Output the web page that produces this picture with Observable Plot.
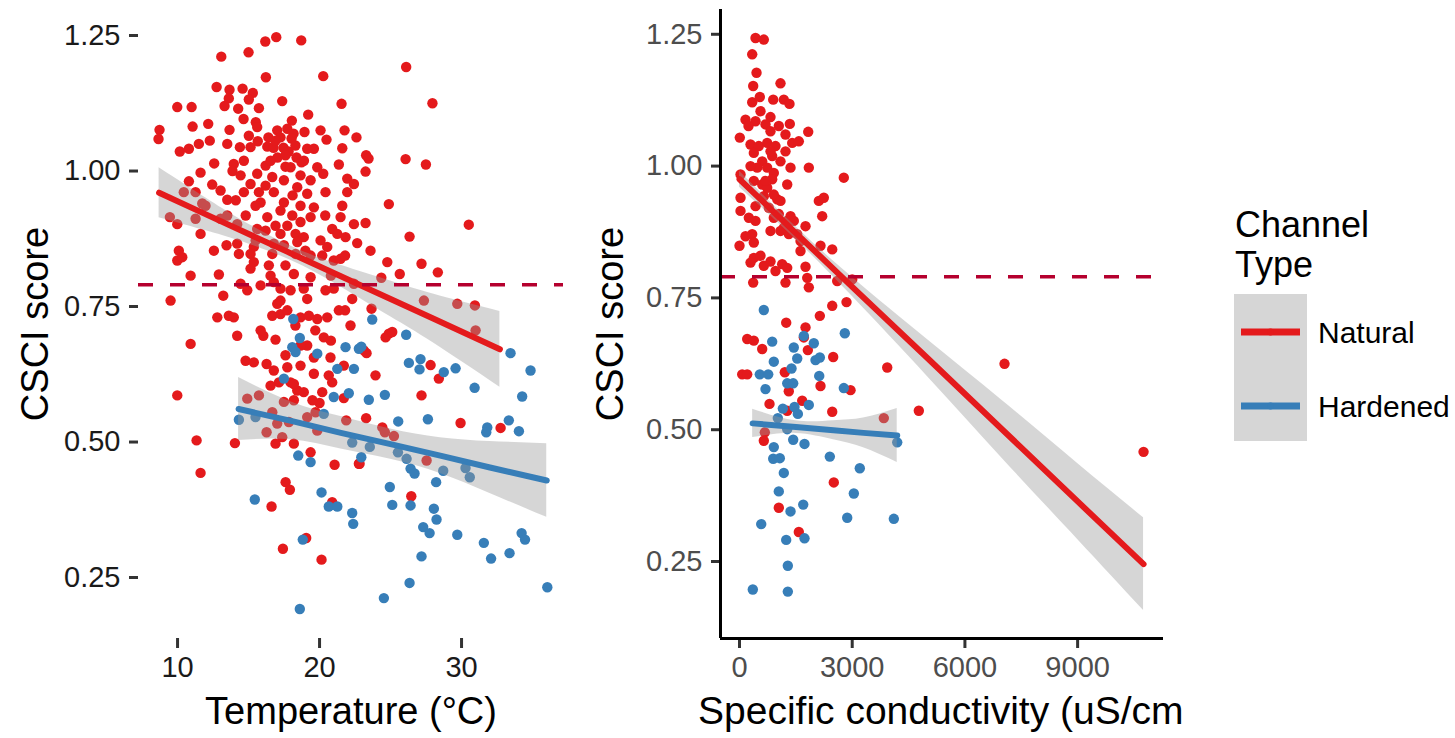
<!DOCTYPE html>
<html><head><meta charset="utf-8">
<script src="https://cdn.jsdelivr.net/npm/d3@7"></script>
<script src="https://cdn.jsdelivr.net/npm/@observablehq/plot@0.6"></script>
<style>
body{margin:0;background:#fff;}
#wrap{position:relative;width:1455px;height:738px;font-family:"Liberation Sans",Arial,sans-serif;}
#left,#right,#legend{position:absolute;top:0;}
#left{left:0}
#right{left:585px}
#legend{left:1190px}
svg{overflow:hidden}
</style></head><body><div id="wrap"><div id="left"></div><div id="right"></div><div id="legend"></div></div>
<script>
// ---------- data ----------
const groups = ["Natural", "Hardened"];
const yTicks = [0.25, 0.5, 0.75, 1.0, 1.25];
const tempTicks = [10, 20, 30];
const condTicks = [0, 3000, 6000, 9000];
const threshold = 0.79;

// [temperature, CSCI]
const leftNatural = [[16.95,1.247],[16.18,1.239],[18.71,1.241],[13.08,1.211],[15.0,1.219],[16.22,1.173],[20.26,1.175],[12.75,1.155],[13.66,1.15],[14.58,1.152],[15.3,1.144],[15.02,1.132],[13.61,1.134],[17.37,1.129],[21.55,1.124],[9.98,1.118],[10.99,1.118],[13.31,1.12],[14.27,1.115],[15.73,1.116],[19.2,1.104],[14.65,1.096],[18.05,1.093],[15.51,1.09],[15.61,1.081],[11.06,1.082],[12.16,1.087],[8.73,1.076],[8.66,1.059],[13.66,1.076],[18.94,1.072],[20.07,1.075],[21.76,1.075],[22.6,1.062],[20.49,1.058],[15.02,1.065],[15.65,1.055],[12.27,1.056],[11.5,1.05],[10.8,1.041],[10.16,1.036],[13.5,1.05],[14.39,1.044],[15.14,1.044],[16.32,1.045],[19.13,1.041],[19.6,1.041],[21.6,1.042],
[17.02,1.075],[17.73,1.078],[18.17,1.069],[18.03,1.06],[17.25,1.062],[16.4,1.062],[16.76,1.043],[17.46,1.043],[17.04,1.025],[17.82,1.036],[18.38,1.025],[17.6,1.008],[18.73,1.016],[12.58,1.014],[13.96,1.013],[14.67,1.019],[13.87,1.0],[14.44,0.992],[11.62,0.997],[21.36,1.012],[16.2,1.01],[18.9,1.019],[19.84,1.007],[20.26,0.995],[21.95,0.986],[22.42,0.976],[10.8,0.981],[12.44,0.975],[13.03,0.964],[13.5,0.947],[15.61,0.995],[15.14,0.976],[14.67,0.961],[15.73,0.961],[16.67,0.989],[16.78,0.961],[17.49,0.983],[17.96,1.007],[18.43,0.97],[19.13,0.958],[20.42,0.961],[21.95,0.961],[15.85,0.942],[17.49,0.942],[19.6,0.933],[21.6,0.936],[16.32,0.915],[18.08,0.918],[19.37,0.915],[21.48,0.915],[10.44,0.961],[11.27,0.961],[11.74,0.94],[9.46,0.915],
[26.1,1.192],[27.95,1.125],[23.28,1.029],[23.45,1.023],[26.06,1.022],[27.49,1.012],[23.24,0.999],[24.88,0.939],
[15.49,0.936],[18.66,0.906],[17.73,0.899],[16.9,0.899],[20.89,0.893],[22.42,0.902],[9.98,0.902],[11.27,0.912],[11.97,0.936],[13.03,0.912],[13.5,0.918],[14.2,0.902],[15.61,0.893],[18.31,0.884],[18.89,0.878],[17.25,0.884],[11.62,0.884],[14.2,0.866],[13.45,0.863],[15.37,0.86],[16.78,0.866],[17.49,0.863],[18.43,0.869],[20.54,0.86],[21.25,0.884],[21.83,0.878],[10.09,0.853],[9.98,0.835],[10.33,0.841],[12.56,0.853],[14.32,0.847],[15.14,0.847],[16.67,0.847],[18.31,0.847],[19.37,0.844],[20.19,0.844],[21.0,0.835],[21.48,0.838],[15.37,0.832],[16.43,0.826],[15.14,0.82],[18.19,0.81],[19.37,0.804],[10.92,0.807],[12.91,0.809],[14.44,0.792],[14.91,0.78],[15.85,0.789],[16.78,0.795],[17.25,0.783],[17.96,0.78],[18.89,0.783],[19.13,0.764],[20.42,0.78],[21.0,0.783],[22.42,0.792],[22.3,0.764],[9.51,0.761],[13.22,0.77],[17.02,0.755],[12.8,0.73],[13.61,0.733],[13.96,0.73],[16.67,0.733],[17.25,0.736],[17.73,0.743],[18.66,0.73],[19.25,0.733],[19.84,0.727],[20.54,0.73],[21.36,0.743],[22.18,0.715],[10.92,0.681],[14.2,0.696],[16.04,0.696],[16.9,0.689],[19.13,0.678],[20.3,0.693],[14.79,0.65],[15.37,0.647],[16.27,0.644],[16.78,0.632],[17.73,0.638],[18.66,0.641],[19.6,0.656],[19.6,0.626],[20.77,0.656],[20.65,0.623],[21.71,0.641],[17.96,0.61],[18.43,0.595],[18.89,0.592],[20.19,0.592],[17.14,0.61],[9.98,0.586],[20.89,0.61],
[23.24,0.904],[30.51,0.901],[22.65,0.867],[26.34,0.879],[23.59,0.853],[24.77,0.832],[27.18,0.829],[25.65,0.81],[28.33,0.813],[24.35,0.803],[27.35,0.761],[29.7,0.755],[30.94,0.752],[23.66,0.746],[30.99,0.706],[24.88,0.7],[24.65,0.693],[25.12,0.703],[23.12,0.669],[23.31,0.664],[27.82,0.642],[23.94,0.623],[28.4,0.617],[27.18,0.586],
[11.34,0.503],[14.04,0.498],[11.62,0.443],[17.61,0.426],[17.91,0.412],[16.62,0.381],[20.89,0.389],[19.06,0.323],[17.42,0.303],[20.14,0.283],[18.19,0.607],[21.71,0.581],[20.0,0.572],[19.37,0.481],[21.06,0.458],[22.77,0.46],
[14.91,0.58],[15.73,0.586],[17.49,0.574],[18.19,0.577],[16.67,0.555],[17.02,0.534],[17.84,0.537],[19.13,0.546],[19.72,0.555],[16.27,0.518],[17.37,0.509],[16.9,0.497],[18.19,0.497],[19.84,0.521],[21.88,0.54],
[23.28,0.544],[24.42,0.527],[25.24,0.511],[24.6,0.518],[29.93,0.535],[32.75,0.526],[22.82,0.46],[27.54,0.466],[26.46,0.4],
[16.9,1.056],[17.6,1.029],[16.55,1.019],[18.3,1.047],[18.66,0.992],[19.37,0.983],[18.1,0.955],[16.2,0.973],[17.25,0.927],[18.66,0.936],[20.4,0.918],[16.2,0.89],[19.0,0.853],[20.07,0.872],[17.6,0.826],[16.55,0.807],[20.8,0.807],[21.8,0.844],[14.8,0.918],[14.1,0.946],[15.5,0.872],[17.25,0.761],[18.3,0.715],[15.85,0.706],[19.7,0.706],[18.66,0.678],[20.8,0.687],[17.6,0.66],[21.8,0.743],[16.55,0.604],[19.5,0.577]];

const leftHardened = [[18.15,0.727],[18.61,0.692],[18.08,0.675],[18.31,0.666],[21.83,0.675],[22.77,0.672],[19.84,0.663],[21.25,0.635],[22.42,0.635],[17.49,0.617],[22.06,0.59],[21.0,0.583],
[23.71,0.726],[26.1,0.698],[22.94,0.676],[33.45,0.664],[26.29,0.646],[27.11,0.653],[27.04,0.634],[28.75,0.629],[29.58,0.636],[34.86,0.632],[30.92,0.6],[34.27,0.584],[24.6,0.587],[23.47,0.578],
[14.32,0.541],[15.49,0.546],[20.3,0.552],[22.3,0.499],[18.5,0.475],[19.37,0.463],[20.14,0.407],[15.44,0.394],[20.65,0.381],[21.25,0.381],[22.3,0.369],[22.37,0.349],[18.82,0.32],[18.61,0.192],
[25.54,0.538],[27.63,0.542],[31.81,0.527],[31.74,0.518],[33.33,0.54],[34.04,0.52],[23.54,0.491],[22.94,0.472],[25.52,0.481],[26.13,0.469],[26.41,0.451],[26.69,0.442],[28.71,0.447],[30.28,0.452],[30.58,0.435],[28.21,0.426],[24.95,0.417],[25.12,0.384],[26.41,0.383],[28.05,0.377],[28.24,0.357],[27.3,0.343],[27.75,0.332],[29.7,0.329],[31.57,0.314],[34.23,0.332],[34.47,0.32],[32.08,0.285],[33.38,0.295],[27.18,0.289],[26.34,0.24],[24.53,0.212],[36.04,0.232]];

// [specific conductivity, CSCI]
const rightNatural = [[426,1.243],[647,1.24],[338,1.212],[453,1.177],[364,1.152],[1091,1.157],[338,1.121],[540,1.131],[897,1.126],[1179,1.126],[1331,1.118],[160,1.088],[426,1.085],[825,1.093],[692,1.079],[1046,1.076],[1339,1.08],[1829,1.065],[8,1.054],[825,1.066],[1224,1.06],[293,1.041],[514,1.038],[737,1.044],[958,1.038],[1403,1.044],[1579,1.047],[381,1.025],[604,1.009],[870,1.019],[1224,1.028],[1091,1.009],[1358,0.997],[1845,0.997],[2776,0.978],[27,0.984],[381,0.972],[604,0.965],[913,0.987],[870,0.975],[1270,0.965],[1004,0.937],[27,0.94],[647,0.943],[2111,0.934],[2244,0.94],[2201,0.905],[27,0.915],[248,0.902],[426,0.896],[338,0.871],[0,0.849],[381,0.855],[913,0.902],[1270,0.896],[1445,0.896],[1091,0.877],[1312,0.871],[1624,0.858],[2156,0.849],[2468,0.842],[737,0.997],[471,0.997],[737,0.959],[913,0.946],[780,0.921],[1046,0.909],[1179,0.883],[1536,0.871],
[381,0.826],[293,0.817],[647,0.811],[825,0.819],[1136,0.814],[1270,0.807],[1757,0.809],[1802,0.788],[1845,0.77],[1224,0.779],[364,0.779],[2601,0.782],[3000,0.785],[2848,0.742],[2468,0.735],[2138,0.716],[1243,0.703],[1757,0.694],[1712,0.675],[205,0.672],[381,0.669],[604,0.653],[1819,0.651],[2494,0.638],[3932,0.618],[72,0.605],[205,0.605],[1206,0.609],[2156,0.583],[2955,0.575],[1312,0.573],[799,0.549],[1669,0.555],[2468,0.534],[4773,0.536],[3841,0.522],[1270,0.536],
[674,0.495],[647,0.479],[2510,0.4],[1046,0.352],[1579,0.306],[7054,0.625],[10755,0.458],
[559,1.104],[825,1.028],[293,1.0],[692,0.972],[1091,0.934],[426,0.924],[1358,0.905],[825,0.877],[160,0.867],[1624,0.839],[559,0.83],[958,0.801],[1757,0.886],[240,1.076]];

const rightHardened = [[647,0.727],[2803,0.683],[870,0.667],[1445,0.656],[1978,0.664],[1712,0.678],[1536,0.635],[913,0.629],[2023,0.632],[2138,0.637],[1384,0.616],[540,0.605],[764,0.605],[2122,0.602],[1270,0.588],[1429,0.588],[692,0.577],[2776,0.579],[1153,0.54],[1464,0.543],[1845,0.547],[1553,0.53],[1020,0.522],
[1270,0.501],[913,0.467],[1429,0.481],[1730,0.473],[897,0.445],[1073,0.446],[2404,0.449],[4198,0.476],[3202,0.427],[1179,0.418],[1046,0.383],[3043,0.379],[1696,0.358],[1358,0.345],[578,0.321],[2867,0.333],[4108,0.331],[1243,0.291],[1730,0.294],[1286,0.242],[354,0.197],[1286,0.193]];

// linear fits with 95% band: [x, lower, fit, upper]
const leftNaturalFit = [[8.7,0.914,0.960,1.006],[12,0.890,0.920,0.950],[14.4,0.871,0.891,0.911],[18,0.835,0.848,0.861],[21.5,0.786,0.806,0.826],[25,0.731,0.764,0.797],[28,0.683,0.728,0.773],[32.7,0.601,0.671,0.741]];
const leftHardenedFit = [[14.3,0.503,0.561,0.619],[18,0.504,0.539,0.574],[21.5,0.487,0.517,0.547],[25,0.468,0.496,0.524],[28.5,0.442,0.475,0.508],[32,0.405,0.453,0.501],[36,0.361,0.429,0.497]];
const rightNaturalFit = [[0,0.960,0.975,0.990],[1500,0.861,0.873,0.885],[3000,0.753,0.771,0.789],[5000,0.601,0.636,0.671],[7000,0.445,0.500,0.555],[9000,0.292,0.364,0.436],[10755,0.157,0.245,0.333]];
const rightHardenedFit = [[350,0.485,0.512,0.539],[1500,0.493,0.505,0.517],[2500,0.481,0.499,0.517],[3300,0.466,0.494,0.522],[4198,0.438,0.489,0.540]];

// ---------- styles ----------
const RED = "#E41A1C", BLUE = "#377EB8";
const FONT = '"Liberation Sans", Arial, sans-serif';
const DOT_R = 5.2;

function panel({width, marginLeft, marginRight, xDomain, yDomain, xTicks, xFmt, nat, hard, natFit, hardFit, xTitle, xTitleOpts, yTitle, axisLines, tickColor, yTitleDx}) {
  const marks = [
    Plot.dot(nat, {x: d => d[0], y: d => d[1], r: DOT_R, fill: RED}),
    Plot.dot(hard, {x: d => d[0], y: d => d[1], r: DOT_R, fill: BLUE}),
    Plot.areaY(natFit, {x: d => d[0], y1: d => d[1], y2: d => d[3], fill: "#999999", fillOpacity: 0.4, curve: "natural"}),
    Plot.areaY(hardFit, {x: d => d[0], y1: d => d[1], y2: d => d[3], fill: "#999999", fillOpacity: 0.4, curve: "natural"}),
    Plot.line(natFit, {x: d => d[0], y: d => d[2], stroke: RED, strokeWidth: 6}),
    Plot.line(hardFit, {x: d => d[0], y: d => d[2], stroke: BLUE, strokeWidth: 6}),
    Plot.ruleY([threshold], {stroke: "#B5002E", strokeWidth: 3.5, strokeDasharray: "15,17"}),
    Plot.axisY({ticks: yTicks, tickFormat: d3.format(".2f"), tickSize: 9, tickPadding: 9, strokeWidth: 3, stroke: "#333", fill: tickColor, fontSize: 29, label: null}),
    Plot.axisX({ticks: xTicks, tickFormat: xFmt, tickSize: 10, tickPadding: 8, strokeWidth: 3, stroke: "#333", fill: tickColor, fontSize: 29, label: null}),
    Plot.text([yTitle], {frameAnchor: "left", dx: yTitleDx, rotate: -90, textAnchor: "middle", lineAnchor: "middle", fontSize: 38, fill: "#000"}),
    Plot.text([xTitle], {frameAnchor: "bottom", dy: 73, lineAnchor: "middle", fontSize: 38, fill: "#000", ...xTitleOpts})
  ];
  if (axisLines) {
    marks.push(Plot.ruleX([xDomain[0]], {stroke: "#000", strokeWidth: 3}));
    marks.push(Plot.ruleY([yDomain[0]], {stroke: "#000", strokeWidth: 3}));
  }
  return Plot.plot({
    width, height: 738, marginLeft, marginRight, marginTop: 9, marginBottom: 100,
    style: {fontFamily: FONT, fontSize: "29px", background: "#fff", overflow: "hidden"},
    x: {domain: xDomain},
    y: {domain: yDomain},
    marks
  });
}

document.getElementById("left").append(panel({
  width: 585, marginLeft: 138, marginRight: 22,
  xDomain: [7.25, 37.18], yDomain: [0.1375, 1.298],
  xTicks: tempTicks, xFmt: d => String(d),
  nat: leftNatural, hard: leftHardened, natFit: leftNaturalFit, hardFit: leftHardenedFit,
  xTitle: "Temperature (°C)", xTitleOpts: {textAnchor: "middle"},
  yTitle: "CSCI score", axisLines: false, tickColor: "#1a1a1a", yTitleDx: -103
}));

document.getElementById("right").append(panel({
  width: 603, marginLeft: 135, marginRight: 25,
  xDomain: [-506, 11286], yDomain: [0.104, 1.297],
  xTicks: condTicks, xFmt: d => String(d),
  nat: rightNatural, hard: rightHardened, natFit: rightNaturalFit, hardFit: rightHardenedFit,
  xTitle: "Specific conductivity (uS/cm", xTitleOpts: {textAnchor: "start", dx: -244, fontSize: 39},
  yTitle: "CSCI score", axisLines: true, tickColor: "#4D4D4D", yTitleDx: -110
}));

// ---------- legend ----------
const lg = d3.select("#legend").append("svg").attr("width", 265).attr("height", 738)
  .style("font-family", FONT);
lg.append("text").attr("x", 45).attr("y", 237).attr("font-size", 36).text("Channel");
lg.append("text").attr("x", 45).attr("y", 277).attr("font-size", 36).text("Type");
lg.append("rect").attr("x", 44).attr("y", 294).attr("width", 73).attr("height", 147).attr("fill", "#d6d6d6");
const colors = [RED, BLUE];
groups.forEach((g, i) => {
  const cy = 332 + i * 74;
  lg.append("line").attr("x1", 51).attr("x2", 110).attr("y1", cy).attr("y2", cy)
    .attr("stroke", colors[i]).attr("stroke-width", 7);
  lg.append("circle").attr("cx", 80.5).attr("cy", cy).attr("r", 3.4).attr("fill", colors[i]);
  lg.append("text").attr("x", 128).attr("y", cy + 11).attr("font-size", 30).text(g);
});
</script></body></html>
